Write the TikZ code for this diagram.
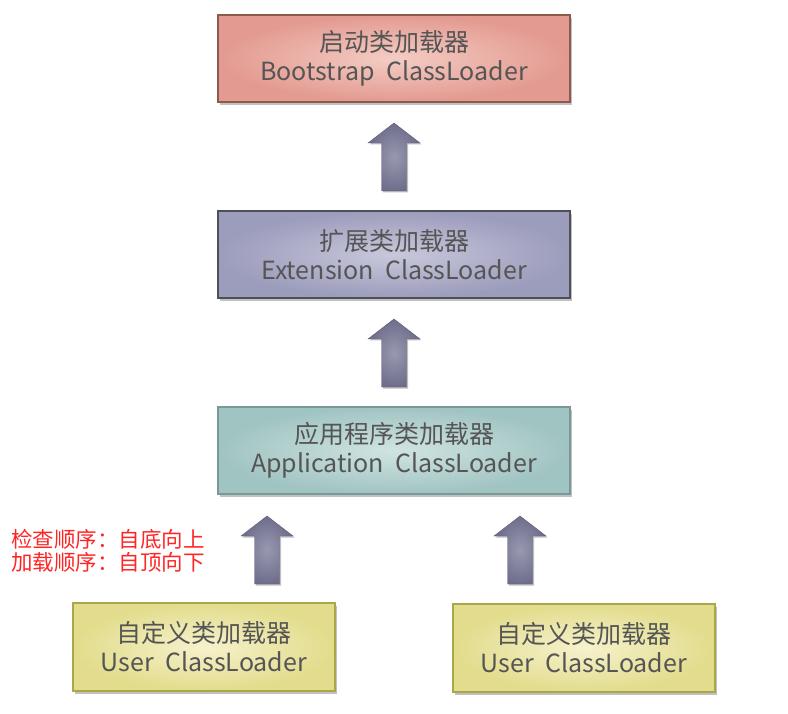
\documentclass[tikz,border=0pt]{standalone}
\usepackage{fontspec}
\setmainfont{Noto Sans CJK SC}
\usetikzlibrary{shadows}
\definecolor{txtgray}{HTML}{555555}
\definecolor{redtxt}{HTML}{FF2525}
\definecolor{bsout}{HTML}{E39A90}\definecolor{bsin}{HTML}{F4CCC4}\definecolor{bsline}{HTML}{8C5B4B}
\definecolor{exout}{HTML}{9C9CBC}\definecolor{exin}{HTML}{C8C8DC}\definecolor{exline}{HTML}{4E5058}
\definecolor{apout}{HTML}{A0C4C2}\definecolor{apin}{HTML}{D0E4E2}\definecolor{apline}{HTML}{7A9896}
\definecolor{usout}{HTML}{E2DC8C}\definecolor{usin}{HTML}{F6F2CC}\definecolor{usline}{HTML}{A8A848}
\definecolor{arout}{HTML}{6E6E8C}\definecolor{arin}{HTML}{9898B0}
\tikzset{
  loader/.style={draw, line width=2pt, minimum width=352pt, minimum height=87pt,
    align=center, font=\fontsize{25}{29}\selectfont, text=txtgray, inner sep=0pt,
    drop shadow={shadow xshift=2pt, shadow yshift=-3pt, opacity=0.35, fill=black!70}},
  userloader/.style={loader, minimum width=262pt, minimum height=88pt},
  blockarrow/.style={inner color=arin, outer color=arout, draw=arout!85!black, line width=0.4pt,
    drop shadow={shadow xshift=1.5pt, shadow yshift=-1.5pt, opacity=0.25, fill=black}},
}
\newcommand{\uparrowat}[1]{%
  \begin{scope}[shift={(#1)}]
    \path[blockarrow] (0,0) -- (26,20) -- (12.5,20) -- (12.5,68) -- (-12.5,68)
      -- (-12.5,20) -- (-26,20) -- cycle;
  \end{scope}}
\begin{document}
\begin{tikzpicture}[x=1pt,y=-1pt]
\useasboundingbox (0,0) rectangle (788,714);
\node[loader, inner color=bsin, outer color=bsout, draw=bsline] (boot) at (394,58.5)
  {启动类加载器\\Bootstrap\ \ ClassLoader};
\node[loader, inner color=exin, outer color=exout, draw=exline] (ext) at (394,254.5)
  {扩展类加载器\\Extension\ \ ClassLoader};
\node[loader, inner color=apin, outer color=apout, draw=apline] (app) at (394,450.5)
  {应用程序类加载器\\Application\ \ ClassLoader};
\node[userloader, inner color=usin, outer color=usout, draw=usline] (user1) at (204,647)
  {自定义类加载器\\User\ \ ClassLoader};
\node[userloader, inner color=usin, outer color=usout, draw=usline] (user2) at (584,648)
  {自定义类加载器\\User\ \ ClassLoader};
\coordinate (a1) at (394,123);
\coordinate (a2) at (394,319);
\coordinate (a3) at (267,516);
\coordinate (a4) at (520,516);
\uparrowat{a1}
\uparrowat{a2}
\uparrowat{a3}
\uparrowat{a4}
\node[anchor=west, align=left, text=redtxt, font=\fontsize{21.5}{23}\selectfont, inner sep=0pt]
  (note) at (11,551) {检查顺序：自底向上\\加载顺序：自顶向下};
\end{tikzpicture}
\end{document}
